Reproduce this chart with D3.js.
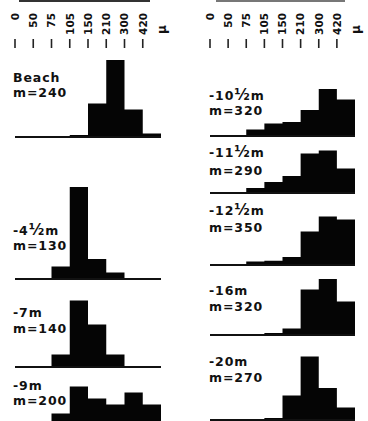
<!DOCTYPE html>
<html>
<head>
<meta charset="utf-8">
<script src="https://cdn.jsdelivr.net/npm/d3@7"></script>
<style>
  body { margin: 0; background: #fff; }
  svg text { font-family: "DejaVu Sans", sans-serif; font-weight: bold; fill: #111; }
</style>
</head>
<body>
<div id="chart"></div>
<script>
// grain size class boundaries (microns)
const binLabels = ["0", "50", "75", "105", "150", "210", "300", "420"];

// depth labels, median sizes and % per size class
const depths = ["Beach", "-4½m", "-7m", "-9m", "-10½m", "-11½m", "-12½m", "-16m", "-20m"];
const medians = [240, 130, 140, 200, 320, 290, 350, 320, 270];

const beach = [0.3, 0.3, 0.3, 2, 23, 52, 19, 3];
const d4_5  = [0.3, 0.3, 9, 62, 14, 5, 1.3, 0.7];
const d7    = [0.5, 0.5, 9, 45, 29, 9, 1.3, 0.5];
const d9    = [0, 0, 7, 25, 17, 13, 21, 13];
const d10_5 = [0.5, 0.5, 5, 9, 10, 18, 32, 25];
const d11_5 = [0.5, 1, 4, 8, 12, 27, 29, 17];
const d12_5 = [0.5, 0.5, 3, 3.5, 6, 23, 33, 31];
const d16   = [0.5, 0.5, 0.5, 2, 5, 31, 38, 23];
const d20   = [0, 0, 0, 2, 17, 43, 22, 9];

const series = [beach, d4_5, d7, d9, d10_5, d11_5, d12_5, d16, d20];

// where each little histogram goes (column, bottom of bars, label baselines)
const layout = [
  { col: 0, base: 138, l1: 82,  l2: 97 },
  { col: 0, base: 280, l1: 235, l2: 250 },
  { col: 0, base: 368, l1: 317, l2: 333 },
  { col: 0, base: 424, l1: 390, l2: 405 },
  { col: 1, base: 137, l1: 100, l2: 115 },
  { col: 1, base: 194, l1: 157, l2: 175 },
  { col: 1, base: 266, l1: 215, l2: 232 },
  { col: 1, base: 336, l1: 295, l2: 311 },
  { col: 1, base: 421, l1: 366, l2: 382 }
];

let width = 368, height = 421;
let svg = d3.select("#chart").append("svg")
  .attr("width", width).attr("height", height);

let xScales = [
  d3.scaleLinear().domain([0, 8]).range([15, 161]),
  d3.scaleLinear().domain([0, 8]).range([210, 355])
];
let y = d3.scaleLinear().domain([0, 60]).range([0, 90]);

// dark strips at the very top (edge of the original figure)
svg.append("rect").attr("x", 19).attr("y", 0).attr("width", 131).attr("height", 2).attr("fill", "#333");
svg.append("rect").attr("x", 216).attr("y", 0).attr("width", 129).attr("height", 2).attr("fill", "#777");

// size scale at the top of each column
xScales.forEach(function (x) {
  let g = svg.append("g");
  g.selectAll("line.tick")
    .data(binLabels)
    .enter().append("line")
    .attr("x1", (d, i) => x(i)).attr("x2", (d, i) => x(i))
    .attr("y1", 39).attr("y2", 48)
    .attr("stroke", "#222").attr("stroke-width", 1.6);
  g.selectAll("text.lab")
    .data(binLabels)
    .enter().append("text")
    .attr("transform", (d, i) => "translate(" + x(i) + ",13) rotate(-90)")
    .attr("text-anchor", "end")
    .attr("dy", "0.36em")
    .style("font-size", "10.5px")
    .text(d => d);
  g.append("text")
    .attr("transform", "translate(" + (x(8) + 1) + ",34) rotate(-90)")
    .attr("text-anchor", "start")
    .attr("dy", "0.36em")
    .style("font-size", "12px")
    .text("μ");
});

// histograms
series.forEach(function (vals, k) {
  let L = layout[k];
  let x = xScales[L.col];
  let pts = vals.map((v, i) => [i, v]).concat([[8, vals[7]]]);
  let area = d3.area()
    .x(d => x(d[0]))
    .y0(L.base)
    .y1(d => L.base - y(d[1]))
    .curve(d3.curveStepAfter);
  svg.append("path").datum(pts)
    .attr("d", area)
    .attr("fill", "#050505");
  svg.append("line")
    .attr("x1", x(0)).attr("x2", x(8))
    .attr("y1", L.base - 1).attr("y2", L.base - 1)
    .attr("stroke", "#111").attr("stroke-width", 2);

  let tx = L.col === 0 ? 13 : 209;
  let t1 = svg.append("text").attr("x", tx).attr("y", L.l1)
    .style("font-size", "12.5px").style("letter-spacing", "0.9px");
  // the ½ is drawn a bit larger, as in the original lettering
  depths[k].split(/(½)/).forEach(function (part) {
    if (!part) return;
    let s = t1.append("tspan").text(part);
    if (part === "½") s.style("font-size", "15px");
  });
  svg.append("text").attr("x", tx).attr("y", L.l2)
    .style("font-size", "12.5px").style("letter-spacing", "0.9px")
    .text("m=" + medians[k]);
});
</script>
</body>
</html>
